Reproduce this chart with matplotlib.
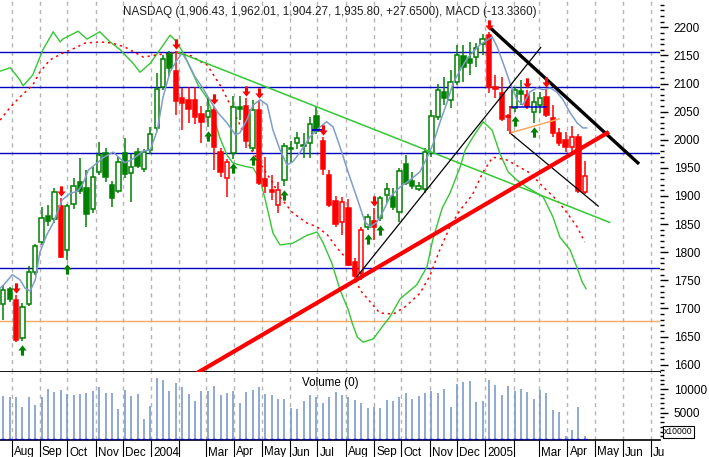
import numpy as np
import pandas as pd
import matplotlib
matplotlib.use('Agg')
import matplotlib.pyplot as plt
from matplotlib.path import Path
from matplotlib.ticker import MultipleLocator, FixedLocator, NullFormatter

plt.rcParams['font.family'] = ['Liberation Sans', 'DejaVu Sans']

# weekly bars, first week centred on 2003-07-23
start = pd.Timestamp('2003-07-23')

opens = [1708, 1735, 1715, 1648, 1708, 1765, 1818, 1864, 1859, 1882,
         1804, 1886, 1925, 1914, 1877, 1943, 1976, 1919, 1909, 1976,
         1941, 1979, 1948, 1981, 2021, 2094, 2152, 2122, 2074, 2071,
         2071, 2046, 2040, 2053, 1978, 1932, 1977, 2059, 2060, 1985,
         2053, 1930, 1910, 1884, 1928, 1985, 1994, 1990, 1994, 2043,
         1997, 1937, 1891, 1853, 1879, 1783, 1763, 1845, 1855, 1861,
         1902, 1899, 1872, 1957, 1926, 1912, 1912, 1976, 2041, 2085,
         2071, 2103, 2149, 2143, 2147, 2170, 2186, 2094, 2084, 2042,
         2056, 2087, 2080, 2050, 2062, 2076, 2039, 2012, 2000, 1987,
         2005, 1906.43]
highs = [1741, 1738, 1724, 1710, 1775, 1815, 1880, 1884, 1915, 1896,
         1885, 1932, 1968, 1946, 1952, 1996, 1985, 1927, 1969, 2003,
         1975, 1985, 1983, 2023, 2119, 2150, 2157, 2158, 2092, 2093,
         2093, 2060, 2074, 2060, 1985, 1965, 2077, 2078, 2074, 2070,
         2071, 1970, 1937, 1925, 1995, 1997, 2014, 2012, 2041, 2059,
         2005, 1946, 1900, 1898, 1894, 1790, 1845, 1868, 1879, 1900,
         1923, 1915, 1950, 1973, 1943, 1925, 1985, 2053, 2100, 2112,
         2124, 2168, 2168, 2174, 2172, 2188, 2191, 2115, 2112, 2046,
         2093, 2106, 2088, 2085, 2085, 2090, 2062, 2020, 2014, 2025,
         2010, 1962.01]
lows = [1679, 1712, 1640, 1643, 1705, 1760, 1812, 1846, 1852, 1790,
        1786, 1877, 1904, 1844, 1870, 1938, 1925, 1880, 1905, 1932,
        1890, 1950, 1943, 1975, 2015, 2088, 2113, 2044, 2017, 2030,
        2028, 1994, 2022, 1946, 1934, 1899, 1965, 2035, 1985, 1980,
        1920, 1905, 1893, 1870, 1918, 1959, 1983, 1967, 1967, 2010,
        1937, 1880, 1845, 1831, 1775, 1745, 1750, 1840, 1822, 1855,
        1888, 1875, 1854, 1920, 1912, 1908, 1905, 1970, 2035, 2062,
        2056, 2098, 2103, 2115, 2130, 2150, 2083, 2074, 2033, 2015,
        2050, 2062, 2055, 2030, 2048, 2040, 2005, 1988, 1979, 1979,
        1905, 1904.27]
closes = [1732, 1716, 1644, 1703, 1765, 1811, 1861, 1856, 1907, 1792,
          1882, 1917, 1909, 1868, 1934, 1973, 1934, 1897, 1961, 1939,
          1951, 1954, 1979, 2010, 2090, 2143, 2128, 2069, 2066, 2055,
          2041, 2032, 2051, 1987, 1943, 1961, 2059, 2055, 1998, 2053,
          1923, 1918, 1907, 1911, 1988, 1983, 2003, 1988, 2028, 2016,
          1948, 1884, 1850, 1889, 1777, 1757, 1839, 1863, 1845, 1897,
          1912, 1881, 1945, 1923, 1917, 1918, 1979, 2042, 2089, 2074,
          2103, 2151, 2130, 2137, 2163, 2179, 2094, 2090, 2037, 2040,
          2089, 2081, 2060, 2068, 2074, 2044, 2012, 1995, 1987, 2004,
          1908, 1935.80]
volumes = [8600, 8400, 8400, 6100, 8400, 6700, 8250, 10000, 9400, 9800,
           8950, 8750, 8950, 9150, 9600, 10500, 9150, 9150, 5800, 9800,
           8600, 8950, 3700, 6500, 12400, 11900, 9600, 11300, 10350, 8950,
           7450, 9600, 9600, 10700, 8750, 9150, 9500, 7050, 9400, 9800,
           10500, 8950, 8750, 7900, 7900, 6000, 5800, 7450, 8750, 8250,
           7050, 8300, 9400, 8800, 8300, 7700, 7000, 5950, 6150, 6000,
           7700, 7400, 8250, 9150, 7900, 8500, 9150, 9500, 9150, 10000,
           6200, 11050, 11500, 11700, 7250, 7450, 11900, 10850, 8750, 10650,
           9650, 10000, 9400, 7900, 9800, 9150, 5550, 5150, 0, 1350,
           6250, 0]

# signal arrows (week index)
sell_weeks = [2, 9, 27, 33, 38, 40, 50, 58, 76, 82, 85]
buy_weeks = [3, 10, 32, 36, 39, 44, 57, 59, 80, 83]

# overlay lines: (week index, value on price scale)
ma_idx = [-0.5, 0.3, 1.4, 2.6, 3.4, 4.2, 5.0, 5.7, 6.8, 7.8,
          9.2, 10.4, 11.7, 12.5, 13.3, 14.7, 15.6, 17.2, 19.0, 20.3,
          21.9, 23.0, 24.1, 25.0, 26.1, 27.2, 28.0, 28.9, 30.0, 31.1,
          32.3, 33.6, 35.0, 36.3, 37.0, 38.1, 39.1, 40.2, 41.3, 42.2,
          43.3, 44.4, 45.3, 46.4, 48.0, 49.6, 50.6, 51.6, 52.7, 54.0,
          55.3, 56.6, 57.4, 58.5, 59.4, 60.5, 62.1, 63.6, 65.2, 66.3,
          67.2, 68.3, 69.4, 70.4, 71.5, 72.6, 73.5, 74.6, 75.7, 76.5,
          77.3, 78.2, 79.3, 80.4, 81.3, 82.4, 83.5, 84.5, 85.6, 86.6,
          87.6, 88.7, 89.8, 90.7, 91.3]
ma_val = [1736, 1745, 1760, 1751, 1736, 1731, 1751, 1799, 1831, 1852,
          1893, 1904, 1909, 1923, 1946, 1959, 1968, 1978, 1959, 1966,
          1980, 1982, 2017, 2076, 2121, 2142, 2154, 2137, 2112, 2094,
          2071, 2048, 2030, 2009, 2012, 2035, 2062, 2071, 2062, 2017,
          1982, 1955, 1961, 1977, 2005, 2023, 2032, 2023, 1987, 1941,
          1898, 1854, 1845, 1854, 1872, 1898, 1916, 1928, 1943, 1968,
          1991, 2030, 2065, 2101, 2124, 2145, 2156, 2169, 2177, 2183,
          2165, 2137, 2101, 2071, 2062, 2085, 2092, 2089, 2092, 2085,
          2071, 2048, 2030, 2021, 2021]

macd_idx = [-0.5, 1.1, 2.6, 3.1, 4.6, 6.2, 7.8, 8.9, 9.3, 11.7,
            13.1, 15.1, 16.7, 18.3, 20.3, 21.4, 23.0, 24.5, 26.1, 26.9,
            28.1, 29.2, 30.5, 31.9, 32.8, 33.9, 35.0, 35.9, 37.0, 38.1,
            39.1, 40.2, 41.0, 42.2, 43.3, 45.3, 47.5, 49.1, 50.0, 51.4,
            52.7, 54.0, 54.6, 55.4, 56.3, 57.9, 59.4, 60.5, 62.1, 64.7,
            66.3, 67.2, 68.7, 69.9, 71.5, 72.3, 73.5, 75.1, 76.5, 77.7,
            79.0, 80.4, 81.9, 83.5, 84.5, 86.0, 87.1, 88.7, 89.8, 90.6,
            91.2]
macd_val = [2122, 2128, 2106, 2096, 2115, 2160, 2192, 2174, 2179, 2193,
            2179, 2192, 2174, 2160, 2136, 2120, 2136, 2160, 2186, 2177,
            2156, 2129, 2097, 2074, 2044, 2003, 1973, 1959, 1955, 1952,
            1950, 1928, 1893, 1834, 1813, 1816, 1830, 1836, 1818, 1781,
            1733, 1697, 1674, 1649, 1640, 1646, 1669, 1685, 1717, 1742,
            1774, 1822, 1879, 1905, 1952, 1982, 2005, 2032, 2017, 1976,
            1943, 1928, 1916, 1905, 1898, 1863, 1827, 1804, 1772, 1747,
            1735]

sig_idx = [-0.5, 1.1, 2.6, 4.6, 5.7, 7.3, 9.3, 11.2, 12.8, 15.1,
           17.0, 19.0, 21.9, 24.1, 27.0, 29.5, 31.0, 31.9, 34.2, 36.6,
           38.8, 42.2, 43.3, 45.3, 47.5, 49.1, 50.7, 52.2, 54.3, 55.8,
           57.4, 58.9, 61.0, 62.9, 65.2, 66.8, 68.3, 69.9, 71.5, 73.4,
           75.1, 76.6, 78.8, 82.4, 84.5, 86.6, 87.9, 89.8, 91.0]
sig_val = [2035, 2058, 2076, 2097, 2120, 2142, 2154, 2163, 2172, 2174,
           2172, 2165, 2147, 2151, 2155, 2149, 2138, 2133, 2092, 2037,
           1982, 1923, 1898, 1870, 1852, 1845, 1831, 1808, 1781, 1733,
           1712, 1692, 1690, 1703, 1727, 1759, 1804, 1845, 1875, 1902,
           1943, 1969, 1964, 1941, 1916, 1893, 1875, 1845, 1818]

# drawn studies
hlines_blue = [2156, 2094, 1976.5, 1772]
hline_orange = 1678
green_trend = ([27.3, 94.9], [2156, 1853])
black_up = ([55.3, 84.1], [1756, 2164])
black_down = ([79.3, 93.1], [2012, 1882])
black_thick = ([76.2, 99.3], [2199, 1959])
red_thick = ([30.6, 94.5], [1587, 2012])
orange_seg = ([79.3, 87.0], [2012, 2037])
blue_seg = ([79.3, 84.9], [2058, 2058])
red_vert = ([79.3, 79.3], [2058, 2012])
blue_dash = ([48.5, 49.9], [2017, 2017])

month_labels = ['Aug', 'Sep', 'Oct', 'Nov', 'Dec', '2004', '', 'Mar', 'Apr', 'May', 'Jun', 'Jul',
                'Aug', 'Sep', 'Oct', 'Nov', 'Dec', '2005', '', 'Mar', 'Apr', 'May', 'Jun', 'Ju']
months = pd.date_range('2003-08-01', '2005-07-01', freq='MS')
month_pos = np.array((months - start).days) / 7.0

title = 'NASDAQ (1,906.43, 1,962.01, 1,904.27, 1,935.80, +27.6500), MACD (-13.3360)'

# ---------------------------------------------------------------
W, H = 709, 457
fig = plt.figure(figsize=(W / 100, H / 100), dpi=100)
ax = fig.add_axes([0, (H - 372) / H, 660 / W, 372 / H])
axv = fig.add_axes([0, (H - 440) / H, 660 / W, 68 / H], sharex=ax)

n = len(closes)
x = np.arange(n)
xlim = (-0.52, 102.77)

# candle colour follows the signal state
cols = []
state = 'g'
for i in range(n):
    if i in sell_weeks:
        state = 'r'
    if i in buy_weeks:
        state = 'g'
    cols.append('#ff0000' if state == 'r' else '#008000')

o = np.array(opens); c = np.array(closes)
hi = np.array(highs); lo = np.array(lows)

for a in (ax, axv):
    for p in month_pos:
        a.axvline(p, color='#b4b4b4', lw=1, ls=(0, (3, 3)), zorder=1)

for yv in hlines_blue:
    ax.axhline(yv, color='#0000c0', lw=1.0, zorder=2)
ax.axhline(hline_orange, color='#f7a860', lw=1.0, zorder=2)

ax.plot(macd_idx, macd_val, color='#33c833', lw=1, zorder=2.5)
ax.plot(sig_idx, sig_val, color='#ff0000', lw=1.1, ls=(0, (1.5, 2.5)), zorder=2.5)

ax.vlines(x, lo, hi, colors=cols, lw=1.1, zorder=3)
face = [cols[i] if c[i] < o[i] else 'white' for i in range(n)]
ax.bar(x, np.abs(c - o), bottom=np.minimum(o, c), width=0.68, color=face,
       edgecolor=cols, linewidth=1.1, zorder=4)

ax.plot(ma_idx, ma_val, color='#7f9ccb', lw=1.1, zorder=5)

ax.plot(*green_trend, color='#33c833', lw=1.1, zorder=6)
ax.plot(*black_up, color='black', lw=0.9, zorder=6)
ax.plot(*black_down, color='black', lw=0.9, zorder=6)
ax.plot(*black_thick, color='black', lw=2.4, zorder=6)
ax.plot(*red_thick, color='#ff0000', lw=3.0, zorder=6)
ax.plot(*orange_seg, color='#f7a860', lw=1.1, zorder=6)
ax.plot(*blue_seg, color='#0000cc', lw=1.1, zorder=6)
ax.plot(*red_vert, color='#ff0000', lw=1.1, zorder=6)
ax.plot(*blue_dash, color='#0000cc', lw=1.5, zorder=6)

down = Path([(-0.15, 0.5), (0.15, 0.5), (0.15, 0.0), (0.4, 0.0), (0.0, -0.5),
             (-0.4, 0.0), (-0.15, 0.0), (-0.15, 0.5)], closed=True)
up = Path([(-0.15, -0.5), (0.15, -0.5), (0.15, 0.0), (0.4, 0.0), (0.0, 0.5),
           (-0.4, 0.0), (-0.15, 0.0), (-0.15, -0.5)], closed=True)
ax.scatter(sell_weeks, hi[sell_weeks] + 12.5, marker=down, s=55, color='#ff0000',
           linewidths=0, zorder=7)
ax.scatter(buy_weeks, lo[buy_weeks] - 16, marker=up, s=55, color='#008000',
           linewidths=0, zorder=7)

ax.set_xlim(*xlim)
ax.set_ylim(1587, 2248.5)
ax.yaxis.tick_right()
ax.yaxis.set_major_locator(FixedLocator(np.arange(1600, 2201, 50)))
ax.yaxis.set_minor_locator(MultipleLocator(10))
ax.tick_params(axis='y', which='major', direction='out', length=6, width=1,
               pad=4, labelsize=8.5, colors='black')
ax.tick_params(axis='y', which='minor', direction='out', length=3, width=1)
ax.tick_params(axis='x', bottom=False, labelbottom=False)
for s in ('left', 'top', 'right'):
    ax.spines[s].set_visible(False)
ax.spines['bottom'].set_linewidth(1.3)
ax.text(0.5, 0.968, title, transform=ax.transAxes, ha='center', va='center',
        fontsize=8.4, color='#202020')

# volume panel
axv.vlines(x, -760, volumes, colors='#7b9bcb', lw=1.2, zorder=3)
axv.scatter(x, np.full(n, -600), marker='_', s=10, color='#0000cc', linewidths=1, zorder=4)
axv.set_ylim(-760, 13590)
axv.yaxis.tick_right()
axv.yaxis.set_major_locator(FixedLocator([5000, 10000]))
axv.yaxis.set_minor_locator(FixedLocator(np.arange(0, 13001, 1000)))
axv.tick_params(axis='y', which='major', direction='out', length=6, width=1,
                pad=4, labelsize=8.5)
axv.tick_params(axis='y', which='minor', direction='out', length=3, width=1)
axv.xaxis.set_major_locator(FixedLocator(month_pos))
axv.xaxis.set_major_formatter(NullFormatter())
axv.tick_params(axis='x', direction='out', length=12, width=0.8, color='black')
for s in ('left', 'top', 'right'):
    axv.spines[s].set_visible(False)
axv.spines['bottom'].set_linewidth(1.2)
axv.text(0.543, 0.84, 'Volume (0)', transform=axv.transAxes, ha='right', va='center',
         fontsize=8.4)

for p, lab in zip(month_pos, month_labels):
    if lab:
        axv.annotate(lab, xy=(p, 0), xycoords=('data', 'axes fraction'),
                     xytext=(1.5, -9), textcoords='offset points',
                     ha='left', va='center', fontsize=8.4)

fig.text(664 / W, (H - 432) / H, 'x10000', fontsize=6.2, va='center', ha='left',
         bbox=dict(boxstyle='square,pad=0.15', fc='white', ec='black', lw=0.8))

fig.savefig('out.png', dpi=100)
